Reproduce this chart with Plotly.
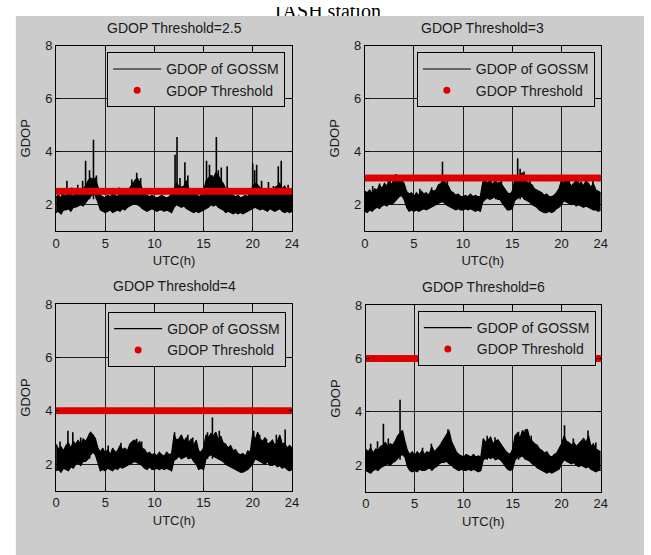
import plotly.graph_objects as go

# ---------------- data ----------------
hours = [i / 4 for i in range(97)]          # sampling grid, 0..24 h every 15 min
thresholds = [2.5, 3, 4, 6]
panel_titles = ["GDOP Threshold=2.5", "GDOP Threshold=3", "GDOP Threshold=4", "GDOP Threshold=6"]
x_ticks = [0, 5, 10, 15, 20, 24]
y_ticks = [2, 4, 6, 8]

# upper / lower envelope of the dense GDOP trace, per panel
gdop_hi_25 = [2.3, 2.35, 2.25, 2.4, 2.3, 2.45, 2.35, 2.3, 2.5, 2.4, 2.55, 2.6,
              2.7, 2.9, 3.0, 2.95, 3.0, 2.7, 2.35, 2.3, 2.25, 2.35, 2.3, 2.4,
              2.35, 2.3, 2.45, 2.4, 2.35, 2.5, 2.65, 2.8, 2.9, 3.0, 2.85, 2.6,
              2.45, 2.35, 2.3, 2.35, 2.3, 2.25, 2.3, 2.35, 2.3, 2.25, 2.3, 2.4,
              2.6, 2.8, 2.7, 2.65, 2.7, 2.9, 2.6, 2.45, 2.35, 2.4, 2.3, 2.35,
              2.5, 2.9, 3.0, 3.1, 3.0, 3.2, 3.1, 2.9, 2.8, 2.6, 2.5, 2.4,
              2.35, 2.3, 2.35, 2.25, 2.3, 2.35, 2.3, 2.45, 2.7, 2.8, 2.75, 2.6,
              2.5, 2.55, 2.45, 2.6, 2.55, 2.65, 2.7, 2.8, 2.6, 2.7, 2.5, 2.45, 2.4]
gdop_lo_25 = [1.7, 1.75, 1.65, 1.8, 1.8, 1.85, 1.75, 1.9, 1.9, 1.95, 2.0, 1.95,
              2.1, 2.2, 2.3, 2.4, 2.35, 2.1, 1.8, 1.75, 1.7, 1.75, 1.8, 1.7,
              1.75, 1.8, 1.75, 1.85, 1.8, 1.9, 1.95, 2.0, 2.05, 2.0, 1.95, 1.85,
              1.8, 1.75, 1.8, 1.85, 1.8, 1.75, 1.8, 1.8, 1.75, 1.8, 1.75, 1.7,
              1.9, 2.0, 1.95, 1.9, 1.95, 1.85, 1.8, 1.75, 1.7, 1.75, 1.7, 1.75,
              1.8, 1.85, 1.9, 2.0, 1.95, 2.0, 1.9, 1.85, 1.8, 1.7, 1.75, 1.7,
              1.65, 1.7, 1.65, 1.7, 1.65, 1.7, 1.75, 1.8, 1.85, 1.9, 1.85, 1.8,
              1.85, 1.8, 1.75, 1.85, 1.8, 1.75, 1.8, 1.85, 1.75, 1.7, 1.75, 1.7, 1.75]

gdop_hi_3 = [2.5, 2.45, 2.55, 2.4, 2.6, 2.55, 2.75, 2.6, 2.8, 2.7, 2.9, 2.75,
             3.0, 2.85, 3.05, 2.9, 2.8, 2.5, 2.4, 2.45, 2.3, 2.45, 2.35, 2.5,
             2.4, 2.45, 2.35, 2.55, 2.5, 2.55, 2.75, 2.8, 2.95, 2.8, 2.7, 2.5,
             2.45, 2.35, 2.4, 2.3, 2.3, 2.35, 2.3, 2.4, 2.3, 2.35, 2.3, 2.3,
             2.85, 2.9, 2.8, 2.95, 2.75, 2.9, 2.8, 2.85, 2.7, 2.6, 2.45, 2.4,
             2.5, 2.95, 3.0, 2.9, 3.2, 2.9, 2.85, 2.8, 2.75, 2.6, 2.55, 2.5,
             2.45, 2.35, 2.4, 2.3, 2.3, 2.35, 2.45, 2.6, 2.9, 2.8, 2.95, 2.85,
             2.7, 2.8, 2.9, 2.75, 2.85, 2.7, 2.9, 2.8, 2.65, 2.8, 2.55, 2.5, 2.45]
gdop_lo_3 = [1.75, 1.7, 1.8, 1.75, 1.85, 1.9, 1.85, 1.95, 2.0, 1.95, 2.05, 2.0,
             2.1, 2.2, 2.3, 2.35, 2.2, 1.9, 1.75, 1.8, 1.75, 1.8, 1.75, 1.8,
             1.85, 1.8, 1.85, 1.9, 1.95, 2.0, 2.05, 2.1, 2.1, 2.0, 1.95, 1.9,
             1.85, 1.8, 1.85, 1.8, 1.8, 1.85, 1.8, 1.85, 1.8, 1.75, 1.8, 1.75,
             2.1, 2.2, 2.25, 2.2, 2.25, 2.3, 2.2, 2.2, 2.05, 1.9, 1.8, 1.8,
             1.85, 2.15, 2.25, 2.3, 2.3, 2.2, 2.15, 2.1, 2.0, 1.95, 1.9, 1.8,
             1.75, 1.7, 1.7, 1.75, 1.7, 1.75, 1.85, 1.9, 2.0, 2.15, 2.1, 2.05,
             2.0, 2.05, 1.95, 2.0, 1.95, 1.9, 1.95, 1.9, 1.85, 1.8, 1.8, 1.75, 1.8]

gdop_hi_4 = [2.75, 2.55, 2.65, 2.5, 2.7, 2.8, 2.6, 2.85, 2.75, 2.9, 2.7, 2.95,
             2.85, 3.05, 3.2, 3.1, 2.95, 2.6, 2.45, 2.6, 2.4, 2.55, 2.35, 2.6,
             2.45, 2.5, 2.7, 2.55, 2.6, 2.5, 2.75, 2.85, 2.9, 2.75, 2.85, 2.6,
             2.55, 2.4, 2.45, 2.35, 2.4, 2.3, 2.45, 2.35, 2.3, 2.45, 2.35, 2.4,
             3.1, 2.9, 2.95, 3.1, 2.85, 3.0, 2.8, 2.95, 2.7, 2.9, 2.5, 2.45,
             2.6, 3.1, 3.0, 3.15, 3.05, 3.2, 2.9, 3.05, 2.8, 2.75, 2.6, 2.7,
             2.5, 2.55, 2.4, 2.35, 2.4, 2.3, 2.5, 2.45, 3.15, 2.9, 3.2, 2.95,
             2.85, 3.0, 2.75, 2.8, 2.9, 2.7, 2.85, 3.1, 2.75, 2.8, 2.6, 2.7, 2.6]
gdop_lo_4 = [1.75, 1.8, 1.7, 1.85, 1.8, 1.75, 1.9, 1.85, 2.0, 2.05, 1.95, 2.1,
             2.1, 2.2, 2.35, 2.45, 2.35, 2.0, 1.75, 1.8, 1.75, 1.85, 1.8, 1.75,
             1.85, 1.8, 1.9, 1.85, 1.9, 1.95, 2.0, 2.05, 2.1, 2.05, 2.0, 1.95,
             1.85, 1.8, 1.9, 1.8, 1.8, 1.85, 1.8, 1.85, 1.8, 1.85, 1.8, 1.75,
             2.15, 2.2, 2.3, 2.2, 2.25, 2.3, 2.2, 2.25, 2.1, 2.0, 1.8, 1.85,
             1.8, 2.2, 2.3, 2.35, 2.3, 2.25, 2.2, 2.15, 2.1, 2.0, 1.95, 1.9,
             1.85, 1.8, 1.75, 1.7, 1.7, 1.75, 1.8, 1.9, 2.0, 2.2, 2.15, 2.1,
             2.05, 2.0, 2.1, 1.95, 1.95, 2.0, 1.9, 1.95, 1.85, 1.9, 1.8, 1.75, 1.8]

gdop_hi_6 = [2.6, 2.5, 2.65, 2.45, 2.6, 2.55, 2.7, 2.75, 2.85, 2.7, 2.8, 2.75,
             2.9, 3.1, 3.2, 3.3, 2.9, 2.55, 2.4, 2.5, 2.35, 2.5, 2.4, 2.55,
             2.4, 2.5, 2.45, 2.7, 2.5, 2.6, 2.7, 2.85, 3.0, 3.1, 3.3, 2.9,
             2.7, 2.5, 2.4, 2.35, 2.3, 2.4, 2.35, 2.3, 2.4, 2.3, 2.35, 2.3,
             3.0, 2.85, 2.95, 3.05, 2.8, 2.9, 2.95, 2.8, 2.7, 2.55, 2.45, 2.4,
             2.6, 3.1, 3.2, 3.0, 3.3, 3.2, 3.35, 3.0, 2.9, 2.8, 2.75, 2.6,
             2.55, 2.45, 2.5, 2.35, 2.3, 2.4, 2.45, 2.6, 2.8, 3.1, 2.9, 2.85,
             2.75, 2.85, 2.7, 2.8, 2.9, 3.0, 2.85, 3.1, 2.7, 2.8, 2.6, 2.55, 2.5]
gdop_lo_6 = [1.8, 1.75, 1.7, 1.8, 1.85, 1.8, 1.9, 1.95, 2.0, 2.05, 2.0, 2.1,
             2.15, 2.25, 2.35, 2.4, 2.3, 1.95, 1.8, 1.75, 1.8, 1.75, 1.85, 1.8,
             1.8, 1.85, 1.9, 1.8, 1.9, 1.95, 2.05, 2.1, 2.1, 2.15, 2.05, 2.0,
             1.9, 1.85, 1.8, 1.85, 1.8, 1.8, 1.85, 1.8, 1.85, 1.8, 1.75, 1.8,
             2.2, 2.25, 2.3, 2.25, 2.3, 2.2, 2.25, 2.2, 2.1, 1.95, 1.85, 1.8,
             1.85, 2.2, 2.3, 2.3, 2.35, 2.25, 2.2, 2.15, 2.05, 2.0, 1.9, 1.85,
             1.8, 1.75, 1.7, 1.75, 1.7, 1.75, 1.8, 1.85, 2.05, 2.2, 2.15, 2.1,
             2.05, 2.1, 2.0, 1.95, 2.0, 1.95, 1.9, 1.95, 1.85, 1.8, 1.75, 1.8, 1.8]

# narrow spikes above the band: hour, peak GDOP
spike_t_25 = [0.6, 1.1, 1.6, 2.2, 2.7, 3.0, 3.4, 3.8, 4.1, 6.4, 7.7, 8.2, 8.6, 12.1, 12.3, 12.6,
              13.1, 13.4, 15.3, 15.6, 15.9, 16.3, 16.5, 16.8, 17.4, 20.0, 20.2, 20.4, 20.9,
              21.6, 22.1, 22.6, 22.9, 23.6]
spike_v_25 = [2.6, 2.9, 2.65, 2.75, 2.9, 3.65, 3.3, 4.45, 3.1, 2.65, 2.95, 3.2, 3.0, 3.88, 4.55, 3.0,
              3.6, 3.1, 3.65, 3.5, 3.1, 4.55, 3.3, 3.4, 3.45, 3.55, 3.3, 3.5, 2.9,
              2.85, 2.7, 3.45, 3.65, 2.75]
spike_t_3 = [0.8, 1.5, 2.4, 3.2, 5.6, 6.8, 7.9, 8.4, 12.6, 13.3, 13.9, 15.55, 15.8, 16.2,
             16.8, 20.3, 20.8, 21.7, 22.5, 23.2]
spike_v_3 = [2.7, 2.8, 2.95, 3.15, 2.6, 2.65, 3.62, 3.0, 3.05, 3.0, 2.95, 3.75, 3.35, 3.25,
             3.0, 3.0, 3.0, 2.95, 2.95, 2.9]
spike_t_4 = [0.4, 1.2, 1.7, 2.5, 3.4, 5.3, 6.6, 8.2, 8.7, 12.05, 12.7, 13.4, 13.9, 15.4,
             15.9, 16.6, 20.1, 20.7, 21.4, 22.4, 23.3]
spike_v_4 = [2.85, 3.25, 3.2, 3.0, 3.15, 2.7, 2.8, 2.95, 2.85, 3.2, 3.05, 3.1, 3.0, 3.2,
             3.75, 3.25, 3.25, 3.1, 2.95, 3.1, 3.3]
spike_t_6 = [0.5, 1.2, 1.8, 2.3, 3.5, 5.8, 6.7, 8.4, 12.4, 13.2, 15.6, 16.3, 16.9, 20.3,
             21.2, 22.7, 23.5]
spike_v_6 = [2.8, 2.9, 3.55, 3.0, 4.45, 2.65, 2.8, 3.35, 3.1, 3.05, 3.25, 3.35, 3.1, 3.5,
             3.0, 3.3, 2.85]

series_hi = [gdop_hi_25, gdop_hi_3, gdop_hi_4, gdop_hi_6]
series_lo = [gdop_lo_25, gdop_lo_3, gdop_lo_4, gdop_lo_6]
spikes_t = [spike_t_25, spike_t_3, spike_t_4, spike_t_6]
spikes_v = [spike_v_25, spike_v_3, spike_v_4, spike_v_6]

# ---------------- layout geometry ----------------
W, H = 651, 555
GRAY = "#cccccc"
RED = "#dd0000"
INK = "#1a1a1a"
FONT = "Liberation Sans, Arial, sans-serif"

def px_x(p):
    return p / W

def px_y(p):
    return 1 - p / H

# plot boxes in pixels (left, right, top, bottom)
boxes = [(53, 293, 39, 227), (367, 607, 39, 227), (53, 293, 301, 490), (368, 607, 302, 491)]
legend_pos = [(286, 46), (601, 46), (287, 309), (602, 308)]
GRAY_LEFT, GRAY_TOP = 12, 9   # the gray figure area starts here (pixels)

fig = go.Figure()

for i in range(4):
    ax = "" if i == 0 else str(i + 1)
    xa, ya = "x" + ax, "y" + ax
    lg = "legend" if i == 0 else "legend" + str(i + 1)
    fig.add_trace(go.Scatter(x=hours, y=series_hi[i], mode="lines",
                             line=dict(color="black", width=1.2),
                             name="GDOP of GOSSM", xaxis=xa, yaxis=ya, legend=lg))
    fig.add_trace(go.Scatter(x=hours, y=series_lo[i], mode="lines",
                             line=dict(color="black", width=1.2), fill="tonexty",
                             fillcolor="black", showlegend=False,
                             xaxis=xa, yaxis=ya, legend=lg))
    sx, sy = [], []
    for t, v in zip(spikes_t[i], spikes_v[i]):
        sx += [t, t, None]
        sy += [2.2, v, None]
    fig.add_trace(go.Scatter(x=sx, y=sy, mode="lines",
                             line=dict(color="black", width=1.6),
                             showlegend=False, xaxis=xa, yaxis=ya, legend=lg))
    fig.add_trace(go.Scatter(x=hours, y=[thresholds[i]] * len(hours), mode="markers",
                             marker=dict(color=RED, size=7),
                             name="GDOP Threshold", xaxis=xa, yaxis=ya, legend=lg))

layout = dict(
    width=W, height=H,
    margin=dict(l=0, r=0, t=0, b=0),
    paper_bgcolor="white",
    plot_bgcolor="rgba(0,0,0,0)",
    font=dict(family=FONT, size=13, color=INK),
    shapes=[
        dict(type="rect", xref="paper", yref="paper", x0=px_x(GRAY_LEFT), x1=1,
             y0=0, y1=px_y(GRAY_TOP), fillcolor=GRAY, line=dict(width=0), layer="below"),
    ],
    annotations=[],
)

for i, (l, r, t, b) in enumerate(boxes):
    ax = "" if i == 0 else str(i + 1)
    common = dict(showline=True, linecolor="black", linewidth=1, mirror="ticks",
                  ticks="inside", ticklen=4, tickcolor="black",
                  showgrid=True, gridcolor="#1e1e1e", gridwidth=1, zeroline=False,
                  tickfont=dict(family=FONT, size=13, color=INK))
    layout["xaxis" + ax] = dict(common, domain=[px_x(l), px_x(r)], range=[0, 24],
                                tickvals=x_ticks, anchor="y" + ax,
                                title=dict(text="UTC(h)", standoff=6,
                                           font=dict(family=FONT, size=13, color=INK)))
    layout["yaxis" + ax] = dict(common, domain=[px_y(b), px_y(t)], range=[1, 8],
                                tickvals=y_ticks, anchor="x" + ax,
                                title=dict(text="GDOP", standoff=11,
                                           font=dict(family=FONT, size=13, color=INK)))
    layout["annotations"].append(dict(
        text=panel_titles[i], xref="paper", yref="paper",
        x=px_x((l + r) / 2), y=px_y(t - 18), xanchor="center", yanchor="middle",
        showarrow=False, font=dict(family=FONT, size=14, color=INK)))
    lx, ly = legend_pos[i]
    layout["legend" if i == 0 else "legend" + str(i + 1)] = dict(
        x=px_x(lx), y=px_y(ly), xanchor="right", yanchor="top",
        bgcolor=GRAY, bordercolor="black", borderwidth=1, traceorder="normal",
        itemwidth=48,
        font=dict(family=FONT, size=14, color=INK), tracegroupgap=0)

# thin strip subplot at the very top holding the figure title; the title is clipped
# to this strip so only its upper part shows, as in the source image
layout["xaxis5"] = dict(domain=[0, 1], range=[0, W], visible=False, anchor="y5")
layout["yaxis5"] = dict(domain=[px_y(GRAY_TOP), 1], range=[GRAY_TOP, 0], visible=False,
                        anchor="x5")
fig.add_trace(go.Scatter(x=[328], y=[6], mode="text", text=["TASH station"],
                         textfont=dict(family="Liberation Serif, Times New Roman, serif",
                                       size=20, color="black"),
                         textposition="middle center", cliponaxis=True,
                         showlegend=False, hoverinfo="skip", xaxis="x5", yaxis="y5"))

fig.update_layout(**layout)
fig.write_html("out.html", config={"displayModeBar": False},
               post_script="document.body.style.margin='0';document.body.style.overflow='hidden';")
